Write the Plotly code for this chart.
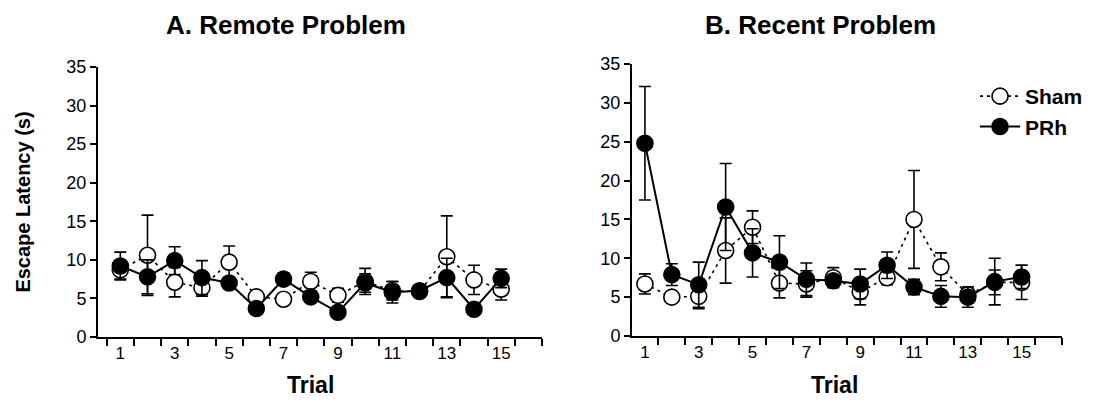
import plotly.graph_objects as go

trials = list(range(1, 16))
tick_labels = ["1", "3", "5", "7", "9", "11", "13", "15"]
tick_label_vals = [1, 3, 5, 7, 9, 11, 13, 15]

# Panel A: Remote Problem
remote_sham = [8.7, 10.6, 7.1, 6.4, 9.7, 5.2, 4.9, 7.2, 5.4, 7.2, 6.0, 5.9, 10.4, 7.4, 6.2]
remote_sham_err = [1.2, 5.2, 1.9, 1.1, 2.1, 0.5, 0.4, 1.2, 0.9, 1.7, 1.2, 0.6, 5.3, 1.9, 1.4]
remote_prh = [9.2, 7.8, 9.9, 7.7, 7.0, 3.7, 7.5, 5.2, 3.2, 7.0, 5.8, 6.0, 7.7, 3.6, 7.6]
remote_prh_err = [1.8, 2.2, 1.8, 2.2, 0.5, 0.4, 0.8, 0.5, 0.4, 1.2, 1.4, 0.7, 2.5, 0.4, 1.2]

# Panel B: Recent Problem
recent_sham = [6.7, 5.0, 5.1, 11.0, 14.0, 6.8, 6.7, 7.5, 5.7, 7.5, 15.0, 8.9, 5.3, 6.9, 6.9]
recent_sham_err = [1.3, 0.4, 1.6, 4.2, 2.1, 1.9, 1.7, 1.3, 1.7, 0.9, 6.3, 1.8, 1.0, 1.6, 2.2]
recent_prh = [24.8, 7.9, 6.6, 16.6, 10.7, 9.5, 7.3, 7.1, 6.7, 9.1, 6.3, 5.1, 5.0, 7.0, 7.6]
recent_prh_err = [7.3, 1.4, 2.9, 5.6, 3.1, 3.4, 2.1, 0.4, 1.9, 1.7, 1.0, 1.4, 1.3, 3.0, 1.5]

FONT = "Liberation Sans, Arial, sans-serif"
W, H = 1098, 400

fig = go.Figure()


def add_panel(sham, sham_err, prh, prh_err, xa, ya, show_legend):
    fig.add_trace(go.Scatter(
        x=trials, y=sham, name="Sham", mode="lines+markers",
        line=dict(color="black", width=1.6, dash="3px,4px"),
        marker=dict(symbol="circle", size=16, color="white",
                    line=dict(color="black", width=1.6)),
        error_y=dict(type="data", array=sham_err, visible=True,
                     color="black", thickness=1.6, width=6),
        xaxis=xa, yaxis=ya, showlegend=show_legend,
    ))
    fig.add_trace(go.Scatter(
        x=trials, y=prh, name="PRh", mode="lines+markers",
        line=dict(color="black", width=2),
        marker=dict(symbol="circle", size=16, color="black",
                    line=dict(color="black", width=1.6)),
        error_y=dict(type="data", array=prh_err, visible=True,
                     color="black", thickness=1.6, width=6),
        xaxis=xa, yaxis=ya, showlegend=show_legend,
    ))


add_panel(remote_sham, remote_sham_err, remote_prh, remote_prh_err, "x", "y", False)
add_panel(recent_sham, recent_sham_err, recent_prh, recent_prh_err, "x2", "y2", True)

half_ticks = [t + 0.5 for t in range(0, 17)]


def xaxis_cfg(dom, rng, anchor):
    return dict(
        domain=dom, range=rng, anchor=anchor, automargin=False,
        showline=True, linecolor="black", linewidth=2,
        showgrid=False, zeroline=False,
        tickmode="array", tickvals=tick_label_vals, ticktext=tick_labels,
        ticks="", tickfont=dict(family=FONT, size=17, color="black"),
        minor=dict(tickmode="array", tickvals=half_ticks, ticks="outside",
                   ticklen=7, tickwidth=2, tickcolor="black", showgrid=False),
    )


def yaxis_cfg(dom, anchor, title):
    return dict(
        domain=dom, range=[0, 35], anchor=anchor, automargin=False,
        showline=True, linecolor="black", linewidth=2,
        showgrid=False, zeroline=False,
        tickmode="array", tickvals=[0, 5, 10, 15, 20, 25, 30, 35],
        ticks="outside", ticklen=6, tickwidth=2, tickcolor="black",
        tickfont=dict(family=FONT, size=18, color="black"),
        title=dict(text=title, font=dict(family=FONT, size=20, color="black",
                                         weight="bold"), standoff=30),
    )


def label(text, x, y, size):
    return dict(text=text, x=x / W, y=1 - y / H, xref="paper", yref="paper",
                showarrow=False, xanchor="center", yanchor="middle",
                font=dict(family=FONT, size=size, color="black", weight="bold"))


fig.update_layout(
    width=W, height=H,
    margin=dict(l=0, r=0, t=0, b=0, autoexpand=False),
    paper_bgcolor="white", plot_bgcolor="white",
    xaxis=xaxis_cfg([98 / W, 542 / W], [0.18, 16.5], "y"),
    yaxis=yaxis_cfg([(H - 337) / H, (H - 67) / H], "x", "Escape Latency (s)"),
    xaxis2=xaxis_cfg([632 / W, 1062 / W], [0.52, 16.5], "y2"),
    yaxis2=yaxis_cfg([(H - 336) / H, (H - 64) / H], "x2", ""),
    legend=dict(x=0.888, y=0.81, xanchor="left", yanchor="top",
                font=dict(family=FONT, size=21, color="black", weight="bold"),
                bgcolor="rgba(0,0,0,0)", tracegroupgap=0, itemwidth=40),
    annotations=[
        label("A. Remote Problem", 286, 25, 26),
        label("B. Recent Problem", 820, 25, 26),
        label("Trial", 310, 385, 23),
        label("Trial", 834, 385, 23),
    ],
)

fig.write_html("out.html", config={"displayModeBar": False},
               post_script="document.body.style.margin='0';document.body.style.overflow='hidden';")
